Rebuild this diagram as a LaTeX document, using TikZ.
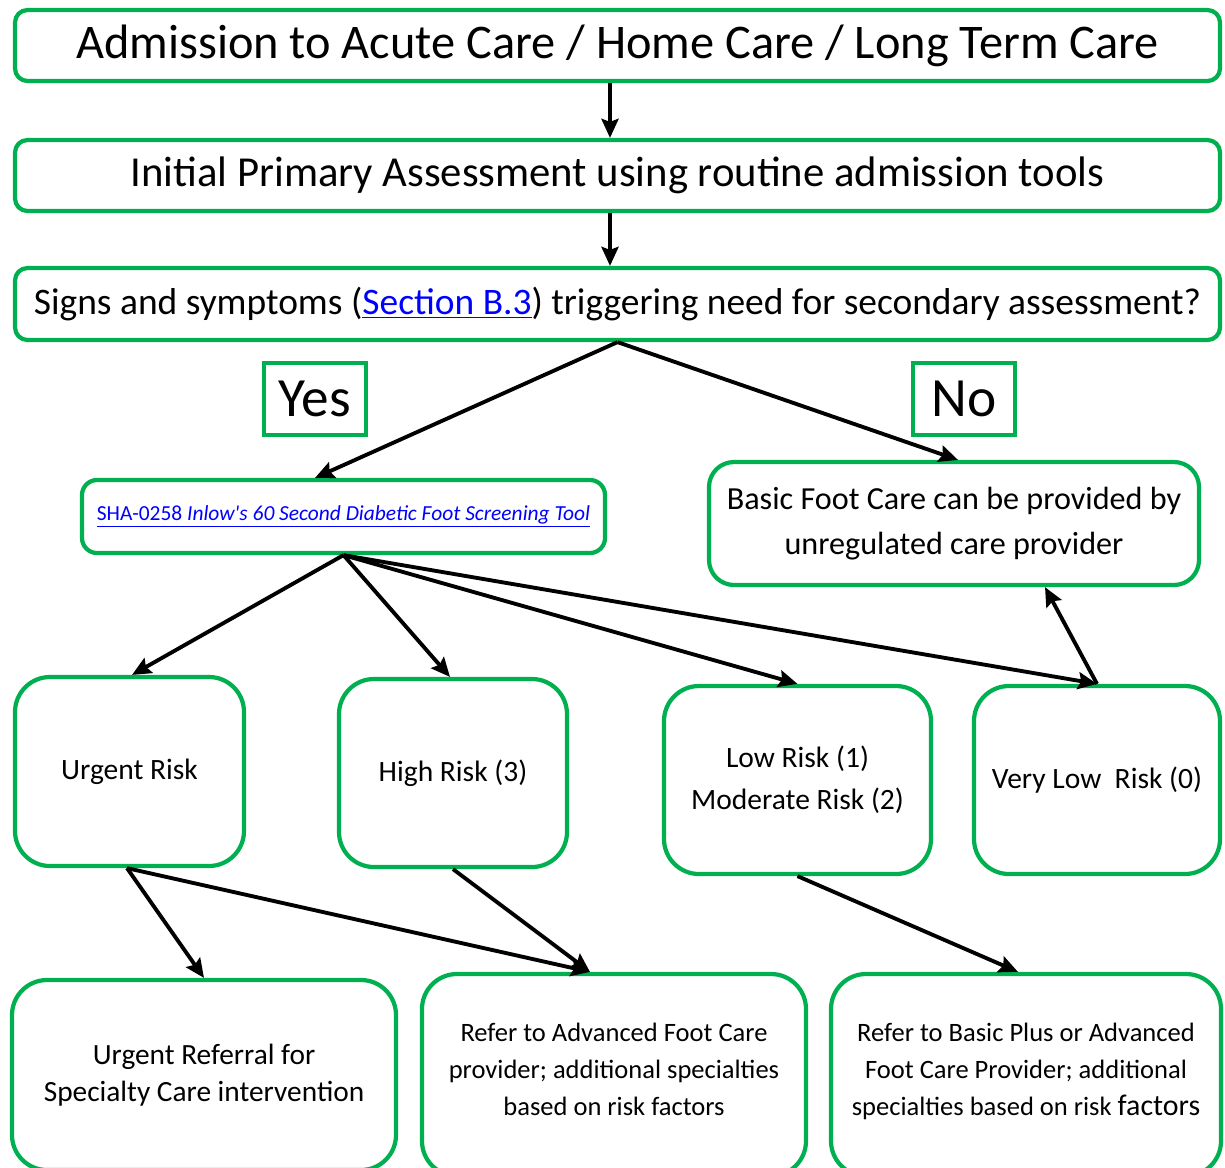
\documentclass[tikz,border=0pt]{standalone}
\usepackage{fontspec}
\setmainfont{Carlito}
\usetikzlibrary{arrows.meta}
\definecolor{boxgreen}{HTML}{00B050}
\definecolor{linkblue}{HTML}{0000FF}

\begin{document}
\begin{tikzpicture}[
    box/.style={draw=boxgreen, line width=2.4pt, fill=white, rounded corners=0.25cm, align=center, inner sep=0pt},
    riskbox/.style={box, rounded corners=0.7cm, font=\fontsize{16.8}{24}\selectfont},
    referbox/.style={box, rounded corners=0.7cm, font=\fontsize{15.1}{21}\selectfont},
    tag/.style={draw=boxgreen, line width=2.4pt, fill=white, minimum width=2.04cm, minimum height=1.44cm, font=\fontsize{31.5}{36}\selectfont},
    arrow/.style={-{Stealth[length=0.38cm, width=0.34cm, inset=0.06cm]}, line width=2.2pt}
]
\useasboundingbox (0,0) rectangle (24.5,-23.34);

% Top of the chart
\node[box, minimum width=24.1cm, minimum height=1.42cm, font=\fontsize{27.5}{32}\selectfont] (admit) at (12.35,-0.91) {Admission to Acute Care / Home Care / Long Term Care};
\node[box, minimum width=24.1cm, minimum height=1.42cm, font=\fontsize{24.3}{28}\selectfont] (initial) at (12.35,-3.51) {Initial Primary Assessment using routine admission tools};
\node[box, minimum width=24.1cm, minimum height=1.44cm, font=\fontsize{21.3}{26}\selectfont] (signs) at (12.35,-6.08) {Signs and symptoms (\textcolor{linkblue}{\underline{Section B.3}}) triggering need for secondary assessment?};

% Yes / No
\node[tag] (yes) at (6.3,-7.98) {Yes};
\node[tag] (no) at (19.28,-7.98) {No};

% Screening tool and basic care
\node[box, rounded corners=0.3cm, minimum width=10.46cm, minimum height=1.46cm, font=\fontsize{12.2}{14}\selectfont] (sha) at (6.87,-10.33) {\textcolor{linkblue}{\underline{SHA-0258 \textit{Inlow\textquotesingle s 60 Second Diabetic Foot Screening Tool}}}};
\node[box, rounded corners=0.5cm, minimum width=9.8cm, minimum height=2.46cm, font=\fontsize{18.3}{25.6}\selectfont] (basic) at (19.08,-10.47) {Basic Foot Care can be provided by\\unregulated care provider};

% Risk levels
\node[riskbox, minimum width=4.58cm, minimum height=3.78cm] (urgent) at (2.59,-15.43) {Urgent Risk};
\node[riskbox, minimum width=4.56cm, minimum height=3.76cm] (high) at (9.06,-15.46) {High Risk (3)};
\node[riskbox, minimum width=5.34cm, minimum height=3.76cm] (lowmod) at (15.95,-15.6) {Low Risk (1)\\Moderate Risk (2)};
\node[riskbox, minimum width=4.92cm, minimum height=3.76cm] (verylow) at (21.94,-15.6) {Very Low~~Risk (0)};

% Referrals
\node[box, rounded corners=0.7cm, minimum width=7.68cm, minimum height=3.8cm, font=\fontsize{16.7}{21}\selectfont] (urgref) at (4.08,-21.5) {Urgent Referral for\\Specialty Care intervention};
\node[referbox, minimum width=7.68cm, minimum height=4.04cm] (advanced) at (12.28,-21.5) {Refer to Advanced Foot Care\\provider; additional specialties\\based on risk factors\\[-0.5cm]};
\node[referbox, minimum width=7.8cm, minimum height=4.04cm] (basicplus) at (20.52,-21.5) {Refer to Basic Plus or Advanced\\Foot Care Provider; additional\\specialties based on risk {\fontsize{17}{21}\selectfont factors}\\[-0.5cm]};

% Arrows
\draw[arrow] ([xshift=-0.15cm]admit.south) -- ([xshift=-0.15cm]initial.north);
\draw[arrow] ([xshift=-0.15cm]initial.south) -- ([xshift=-0.15cm]signs.north);
\draw[arrow] (signs.south) -- ([xshift=-0.57cm]sha.north);
\draw[arrow] (signs.south) -- ([xshift=0.08cm]basic.north);
\draw[arrow] (sha.south) -- ([xshift=0.05cm]urgent.north);
\draw[arrow] (sha.south) -- ([xshift=-0.06cm]high.north);
\draw[arrow] (sha.south) -- (lowmod.north);
\draw[arrow] (sha.south) -- (verylow.north);
\draw[arrow] (verylow.north) -- ([xshift=1.82cm]basic.south);
\draw[arrow] ([xshift=-0.05cm]urgent.south) -- (urgref.north);
\draw[arrow] ([xshift=-0.05cm]urgent.south) -- ([xshift=-0.48cm]advanced.north);
\draw[arrow] (high.south) -- ([xshift=-0.48cm]advanced.north);
\draw[arrow] (lowmod.south) -- ([xshift=-0.16cm]basicplus.north);

\end{tikzpicture}
\end{document}
